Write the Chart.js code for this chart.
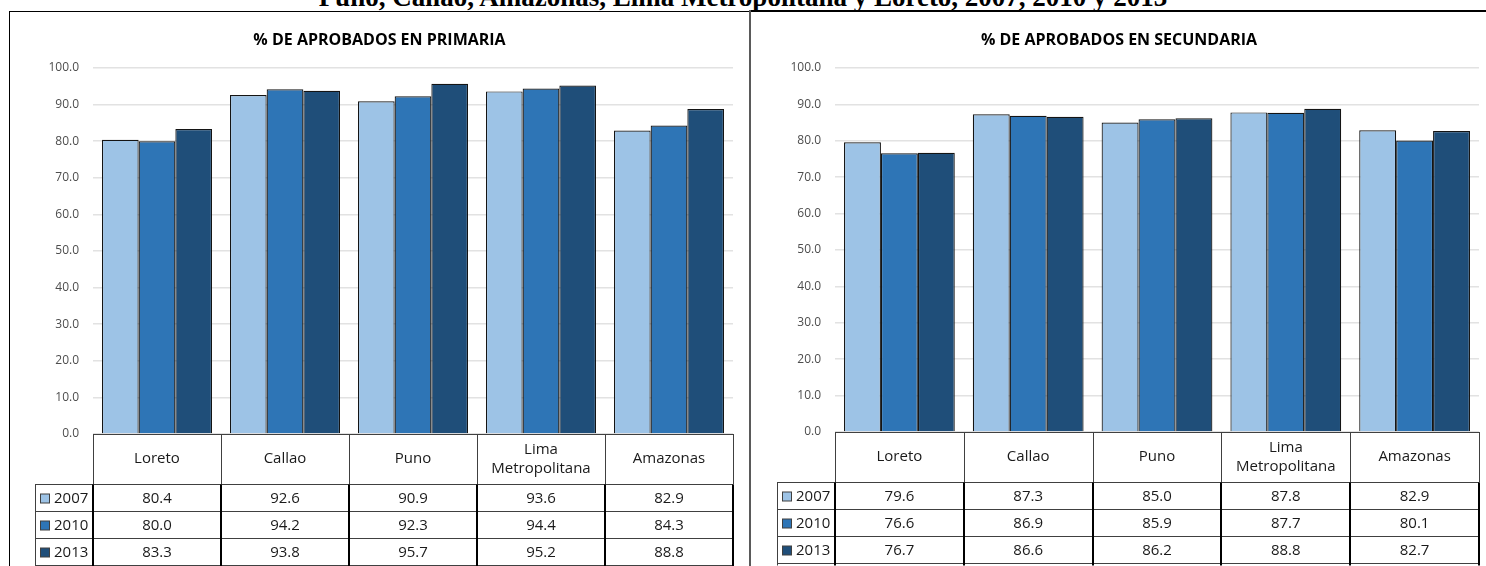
<!DOCTYPE html>
<html>
<head>
<meta charset="utf-8">
<script src="https://cdn.jsdelivr.net/npm/chart.js@4.4.1/dist/chart.umd.min.js"></script>
<style>
  html, body { margin:0; padding:0; background:#fff; }
  body { width:1486px; height:566px; overflow:hidden; position:relative; }
  #mainTitle { position:absolute; left:0; top:-13px; width:1486px; text-align:center;
    font:bold 27px "Liberation Serif", "Times New Roman", serif; line-height:20px; color:#000; white-space:nowrap; }
  .frameL { position:absolute; left:9px; top:11px; width:741px; height:600px; border-left:1.5px solid #000; border-top:1.5px solid #000; box-sizing:border-box; }
  .sep { position:absolute; left:749px; top:10px; width:2px; height:556px; background:#5a5a5a; }
  .frameRtop { position:absolute; left:751px; top:10px; width:735px; height:2px; background:#000; }
  canvas { position:absolute; }
</style>
</head>
<body>
<div id="mainTitle">Puno, Callao, Amazonas, Lima Metropolitana y Loreto, 2007, 2010 y 2013</div>
<div class="frameL"></div>
<div class="sep"></div>
<div class="frameRtop"></div>
<canvas id="c1" width="739" height="554" style="left:10px;top:12px;width:739px;height:554px"></canvas>
<canvas id="c2" width="734" height="554" style="left:752px;top:12px;width:734px;height:554px"></canvas>
<script>
// ---- data ----
const categories = ['Loreto', 'Callao', 'Puno', ['Lima', 'Metropolitana'], 'Amazonas'];
const years = ['2007', '2010', '2013'];
const primaria2007 = [80.4, 92.6, 90.9, 93.6, 82.9];
const primaria2010 = [80.0, 94.2, 92.3, 94.4, 84.3];
const primaria2013 = [83.3, 93.8, 95.7, 95.2, 88.8];
const secundaria2007 = [79.6, 87.3, 85.0, 87.8, 82.9];
const secundaria2010 = [76.6, 86.9, 85.9, 87.7, 80.1];
const secundaria2013 = [76.7, 86.6, 86.2, 88.8, 82.7];
const titlePrimaria = '% DE APROBADOS EN PRIMARIA';
const titleSecundaria = '% DE APROBADOS EN SECUNDARIA';
const yMin = 0, yMax = 100, yStep = 10;

// ---- styles ----
const seriesColors = ['#9DC3E6', '#2E75B6', '#1F4E79'];
const FONT = '"Open Sans", "Liberation Sans", sans-serif';

const panelPlugin = {
  id: 'panelDecor',
  afterDraw(chart, args, opts) {
    const { ctx, chartArea, scales } = chart;
    const x = scales.x;
    const n = chart.data.labels.length;
    const L = chartArea.left, R = chartArea.right;
    const w = (R - L) / n;
    const top = chartArea.bottom;
    const hh = opts.headerHeight, rh = opts.rowHeight;
    const legL = L - opts.legendWidth;
    ctx.save();
    // title
    ctx.fillStyle = '#000';
    ctx.font = 'bold 16px ' + FONT;
    ctx.textAlign = 'center';
    ctx.textBaseline = 'middle';
    ctx.fillText(opts.title, chart.width / 2, opts.titleY);

    ctx.strokeStyle = '#404040';
    ctx.lineWidth = 1;
    const hl = (x1, x2, y) => { ctx.beginPath(); ctx.moveTo(x1, y); ctx.lineTo(x2, y); ctx.stroke(); };
    const vl = (xx, y1, y2) => { ctx.beginPath(); ctx.moveTo(xx, y1); ctx.lineTo(xx, y2); ctx.stroke(); };
    hl(L, R, Math.round(top) + 0.5);
    const hb = Math.round(top + hh) + 0.5;
    const bound = (i) => (i < n ? x.getPixelForValue(i) - w / 2 : x.getPixelForValue(n - 1) + w / 2);
    for (let i = 0; i <= n; i++) vl(Math.round(bound(i)) + 0.5, top, hb);
    hl(legL, R, hb);
    for (let k = 1; k <= 3; k++) hl(legL, R, hb + k * rh);
    vl(Math.round(legL) + 0.5, hb, hb + 3 * rh + 2);
    ctx.strokeStyle = '#000';
    ctx.lineWidth = 2;
    for (let i = 0; i <= n; i++) vl(Math.round(bound(i)), hb, hb + 3 * rh + 2);
    // header labels
    ctx.fillStyle = '#1a1a1a';
    ctx.font = '15px ' + FONT;
    chart.data.labels.forEach((lab, i) => {
      const cx = x.getPixelForValue(i);
      const lines = Array.isArray(lab) ? lab : [lab];
      const lh = 19;
      const y0 = top + hh / 2 - (lines.length - 1) * lh / 2;
      lines.forEach((t, j) => ctx.fillText(t, cx, y0 + j * lh));
    });
    // rows
    chart.data.datasets.forEach((ds, r) => {
      const cy = hb + r * rh + rh / 2;
      ds.data.forEach((v, i) => {
        ctx.textAlign = 'center';
        ctx.fillStyle = '#1a1a1a';
        ctx.fillText(v.toFixed(1), x.getPixelForValue(i), cy + 1);
      });
      ctx.fillStyle = ds.backgroundColor;
      ctx.fillRect(legL + 5.5, cy - 4, 9, 9);
      ctx.strokeStyle = '#404040';
      ctx.lineWidth = 1;
      ctx.strokeRect(legL + 5.5, cy - 4, 9, 9);
      ctx.fillStyle = '#1a1a1a';
      ctx.textAlign = 'left';
      ctx.fillText(ds.label, legL + 19, cy + 1);
    });
    ctx.restore();
  }
};

function makeChart(id, title, s1, s2, s3, pad) {
  const series = [s1, s2, s3];
  return new Chart(document.getElementById(id), {
    type: 'bar',
    data: {
      labels: categories,
      datasets: years.map((y, i) => ({
        label: y,
        data: series[i],
        backgroundColor: seriesColors[i],
        borderColor: '#141414',
        borderWidth: 1.2,
        barPercentage: 1.0,
        categoryPercentage: 0.86
      }))
    },
    options: {
      responsive: false,
      animation: false,
      devicePixelRatio: 1,
      layout: { padding: pad },
      plugins: {
        legend: { display: false },
        title: { display: false },
        tooltip: { enabled: false },
        panelDecor: { title: title, titleY: 28, headerHeight: 50, rowHeight: 27, legendWidth: 58 }
      },
      scales: {
        x: { display: false, offset: true },
        y: {
          min: yMin, max: yMax,
          afterFit: (s) => { s.width = 83; },
          ticks: { stepSize: yStep, callback: (v) => Number(v).toFixed(1), color: '#4d4d4d', font: { family: FONT, size: 12 }, padding: 14 },
          grid: { color: '#e2e2e2', lineWidth: 1.5, drawTicks: false },
          border: { display: false }
        }
      }
    },
    plugins: [panelPlugin]
  });
}

makeChart('c1', titlePrimaria, primaria2007, primaria2010, primaria2013, { left: 0, right: 16, top: 56, bottom: 132 });
makeChart('c2', titleSecundaria, secundaria2007, secundaria2010, secundaria2013, { left: 0, right: 7, top: 56, bottom: 134 });
</script>
</body>
</html>
